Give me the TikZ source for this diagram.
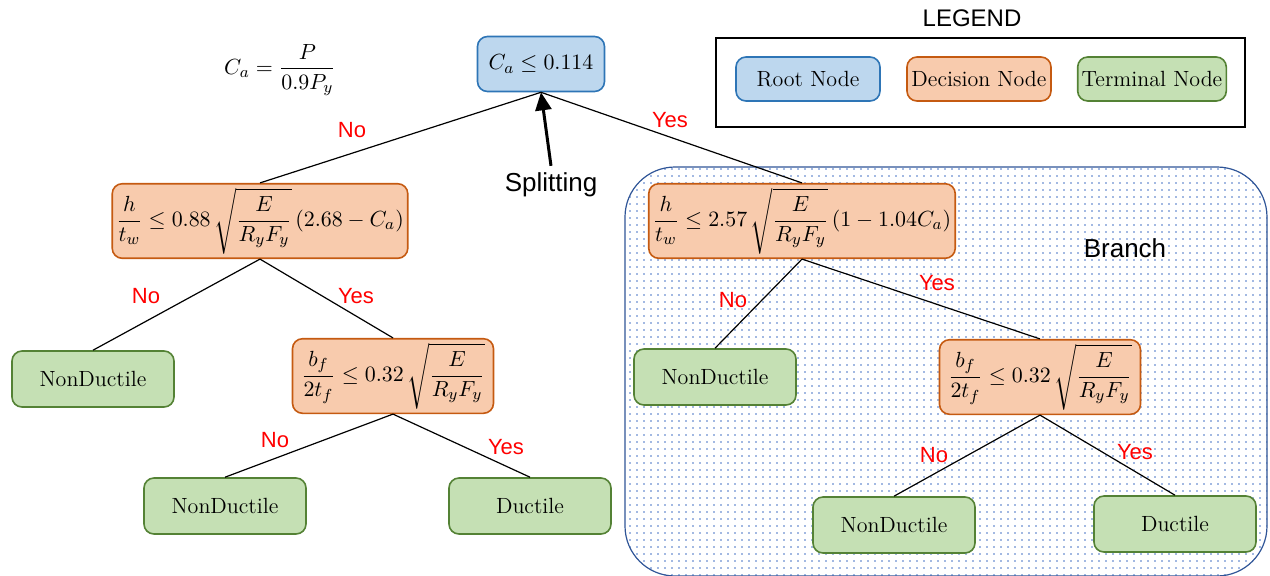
\documentclass[tikz,border=0pt]{standalone}
\usepackage{amsmath}
\usepackage{fontspec}
\newfontfamily\arial{Liberation Sans}
\usetikzlibrary{arrows.meta}
\usetikzlibrary{patterns.meta}
\definecolor{rootfill}{HTML}{BDD7EE}
\definecolor{rootline}{HTML}{2E75B6}
\definecolor{decfill}{HTML}{F8CBAD}
\definecolor{decline}{HTML}{C55A11}
\definecolor{termfill}{HTML}{C5E0B4}
\definecolor{termline}{HTML}{548235}
\definecolor{branchline}{HTML}{2F5597}
\definecolor{dotblue}{HTML}{4472C4}
\tikzset{box/.style={rectangle, rounded corners=5pt, thick, inner sep=2pt, font=\fontsize{11}{13}\selectfont}}
\tikzset{root/.style={box, draw=rootline, fill=rootfill, minimum width=63.5pt, minimum height=27.5pt}}
\tikzset{dec/.style={box, draw=decline, fill=decfill, minimum height=37pt}}
\tikzset{term/.style={box, draw=termline, fill=termfill, minimum width=81pt, minimum height=28pt}}
\tikzset{key/.style={box, minimum width=72pt, minimum height=22pt}}
\tikzset{ans/.style={text=red, font=\arial\fontsize{11}{13}\selectfont}}
\tikzset{note/.style={font=\arial\fontsize{13}{15}\selectfont}}

\begin{document}
\begin{tikzpicture}[x=0.5pt, y=-0.5pt]

    \useasboundingbox (0,0) rectangle (1270,575);

    % branch region
    \draw[branchline, semithick, rounded corners=25pt, pattern={Dots[distance=3.5pt, radius=0.45pt]}, pattern color=dotblue]
        (625,167) rectangle (1267,576);
    \node[note] (branch) at (1125,248) {Branch};

    % legend
    \node[note, font=\arial\fontsize{12}{14}\selectfont] (legend) at (972,18) {LEGEND};
    \draw[thick] (716,38) rectangle (1245,127);
    \node[key, draw=rootline, fill=rootfill] (kroot) at (808,79) {Root Node};
    \node[key, draw=decline, fill=decfill] (kdec) at (979,79) {Decision Node};
    \node[key, draw=termline, fill=termfill] (kterm) at (1152,79) {Terminal Node};

    \node[font=\fontsize{11}{13}\selectfont] (ca) at (280,70) {$C_a = \dfrac{P}{0.9P_y}$};

    % tree
    \node[root] (r) at (541,64) {$C_a \leq 0.114$};
    \node[dec, minimum width=145pt] (d1) at (260,221)
        {$\dfrac{h}{t_w} \leq 0.88\,\sqrt{\dfrac{E}{R_yF_y}}\,(2.68 - C_a)$};
    \node[dec, minimum width=145pt] (d2) at (802,221)
        {$\dfrac{h}{t_w} \leq 2.57\,\sqrt{\dfrac{E}{R_yF_y}}\,(1 - 1.04C_a)$};
    \node[dec, minimum width=100.5pt] (d3) at (393,376)
        {$\dfrac{b_f}{2t_f} \leq 0.32\,\sqrt{\dfrac{E}{R_yF_y}}$};
    \node[dec, minimum width=100.5pt] (d4) at (1040,377)
        {$\dfrac{b_f}{2t_f} \leq 0.32\,\sqrt{\dfrac{E}{R_yF_y}}$};
    \node[term] (t1) at (93,379) {NonDuctile};
    \node[term] (t2) at (225,506) {NonDuctile};
    \node[term] (t3) at (530,506) {Ductile};
    \node[term] (t4) at (715,377) {NonDuctile};
    \node[term] (t5) at (894,525) {NonDuctile};
    \node[term] (t6) at (1175,524) {Ductile};

    \draw[semithick] (r.south) -- (d1.north);
    \draw[semithick] (r.south) -- (d2.north);
    \draw[semithick] (d1.south) -- (t1.north);
    \draw[semithick] (d1.south) -- (d3.north);
    \draw[semithick] (d3.south) -- (t2.north);
    \draw[semithick] (d3.south) -- (t3.north);
    \draw[semithick] (d2.south) -- (t4.north);
    \draw[semithick] (d2.south) -- (d4.north);
    \draw[semithick] (d4.south) -- (t5.north);
    \draw[semithick] (d4.south) -- (t6.north);

    \node[ans] (n1) at (352,130) {No};
    \node[ans] (y1) at (670,120) {Yes};
    \node[ans] (n2) at (146,296) {No};
    \node[ans] (y2) at (356,296) {Yes};
    \node[ans] (n3) at (275,440) {No};
    \node[ans] (y3) at (506,447) {Yes};
    \node[ans] (n4) at (733,300) {No};
    \node[ans] (y4) at (937,283) {Yes};
    \node[ans] (n5) at (934,455) {No};
    \node[ans] (y5) at (1135,452) {Yes};

    % splitting arrow
    \node[note] (split) at (551,185) {Splitting};
    \draw[line width=1.5pt, -{Triangle[length=9pt, width=8pt]}] (split.north) -- (r.south);

\end{tikzpicture}
\end{document}
